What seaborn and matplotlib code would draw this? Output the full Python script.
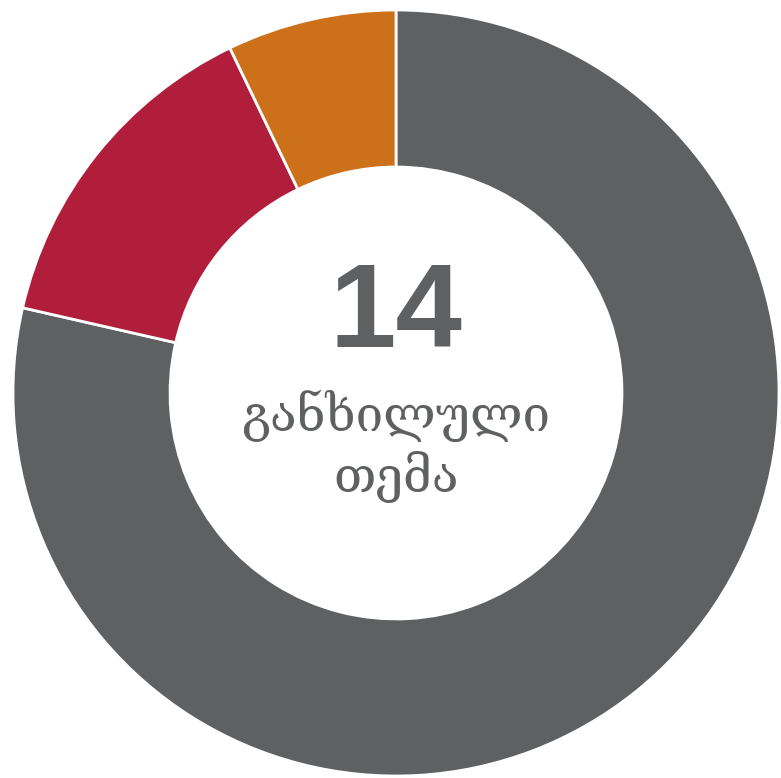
import matplotlib
matplotlib.use("Agg")
import matplotlib.pyplot as plt
import seaborn as sns

sns.set_theme(style="white")

categories = ["A", "B", "C"]
values = [11, 2, 1]
colors = ["#5f6062", "#b11e3c", "#cc7019"]
total_label = "14"
sub_label = "განხილული\nთემა"

fig = plt.figure(figsize=(7.81, 7.78), dpi=100)
ax = fig.add_axes([0, 0, 1, 1])
ax.pie(values, colors=colors, startangle=90, counterclock=False, radius=1.0,
       wedgeprops=dict(width=0.41, edgecolor="white", linewidth=2))
ax.set_xlim(-396/383, (781-396)/383)
ax.set_ylim(-385/383, 393/383)
ax.set_aspect("equal")
ax.axis("off")

ax.text(0, (393-317)/383, total_label, ha="center", va="center", fontsize=86,
        fontweight="bold", color="#5f6062", family=["Liberation Sans", "DejaVu Sans"])
ax.text(0, (393-446)/383, sub_label, ha="center", va="center", fontsize=35.5,
        color="#5f6062", family=["DejaVu Serif", "DejaVu Sans"], linespacing=1.22)

fig.savefig("out.png", dpi=100, facecolor="white")
